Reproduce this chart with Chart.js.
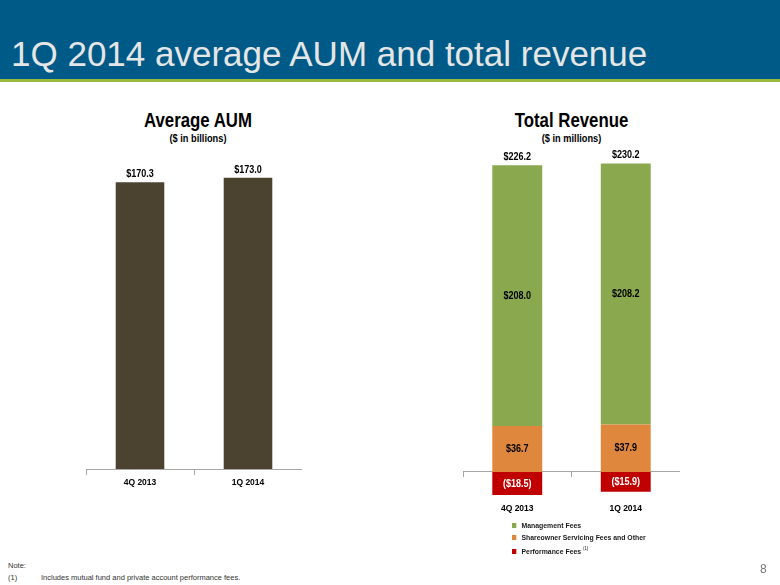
<!DOCTYPE html>
<html>
<head>
<meta charset="utf-8">
<script src="https://cdn.jsdelivr.net/npm/chart.js@4.4.1/dist/chart.umd.min.js"></script>
<style>
    body { margin: 0; width: 780px; height: 585px; position: relative; background: #fff; overflow: hidden; font-family: "Liberation Sans", Arial, sans-serif; }
    #cabecera { position: absolute; left: 0; top: 0; width: 780px; height: 79px; background: #005a87; border-bottom: 3px solid #9bbb3c; }
    #titulo { position: absolute; left: 11px; top: 36px; font-size: 35px; line-height: 35px; color: #e6e6e6; white-space: nowrap; }
    /* no hay Arial Narrow: se comprime Liberation Sans en horizontal */
    .narrow { font-family: "Liberation Sans", Arial, sans-serif; font-weight: bold; color: #000; }
    .tit { position: absolute; text-align: center; font-size: 20px; line-height: 20px; transform: scaleX(0.84); transform-origin: center; }
    .sub { position: absolute; text-align: center; font-size: 11px; line-height: 11px; transform: scaleX(0.84); transform-origin: center; }
    canvas { position: absolute; }
    #leyenda { position: absolute; left: 512px; top: 520px; font-size: 8px; line-height: 11.7px; color: #1a1a1a; white-space: nowrap; transform: scaleX(0.86); transform-origin: left; }
    #leyenda span.cuadro { display: inline-block; width: 5px; height: 5px; margin-right: 6px; vertical-align: 0px; }
    #leyenda sup { font-size: 5px; font-weight: normal; }
    #nota { position: absolute; left: 8px; top: 560px; font-size: 7.5px; line-height: 12px; color: #333; white-space: nowrap; }
    #pagina { position: absolute; left: 760px; top: 562px; font-size: 12px; color: #777; }
</style>
</head>
<body>
<div id="cabecera"><div id="titulo">1Q 2014 average AUM and total revenue</div></div>

<div class="tit narrow" style="left:90px; top:110px; width:216px;">Average AUM</div>
<div class="sub narrow" style="left:90px; top:133px; width:216px;">($ in billions)</div>
<canvas id="chartAUM" width="216" height="354" style="left:86px; top:140px;"></canvas>

<div class="tit narrow" style="left:463px; top:110px; width:217px;">Total Revenue</div>
<div class="sub narrow" style="left:463px; top:133px; width:217px;">($ in millions)</div>
<canvas id="chartIngresos" width="217" height="376" style="left:463px; top:146px;"></canvas>

<div id="leyenda" class="narrow"></div>

<div id="nota">Note:<br>(1)<span style="position:absolute; left:33px;">Includes mutual fund and private account performance fees.</span></div>
<div id="pagina">8</div>

<script>
// Datos
const trimestres = ['4Q 2013', '1Q 2014'];
const aumPromedio = [170.3, 173.0];
const comisionesGestion = [208.0, 208.2];
const comisionesServicio = [36.7, 37.9];
const comisionesDesempeno = [-18.5, -15.9];

const fuente = '"Liberation Sans", Arial, sans-serif';
const gris = '#a6a6a6';

function formatoMoneda(valor) {
    const texto = '$' + Math.abs(valor).toFixed(1);
    return valor < 0 ? '(' + texto + ')' : texto;
}

// texto comprimido para imitar Arial Narrow
function textoAngosto(ctx, texto, x, y) {
    ctx.save();
    ctx.translate(x, y);
    ctx.scale(0.82, 1);
    ctx.fillText(texto, 0, 0);
    ctx.restore();
}

// Etiquetas de valores sobre/dentro de las barras
const etiquetas = {
    id: 'etiquetas',
    afterDatasetsDraw(chart, args, opts) {
        const ctx = chart.ctx;
        ctx.save();
        ctx.font = 'bold 11px ' + fuente;
        ctx.textAlign = 'center';
        ctx.textBaseline = 'middle';
        chart.data.datasets.forEach((ds, i) => {
            const meta = chart.getDatasetMeta(i);
            meta.data.forEach((bar, j) => {
                ctx.fillStyle = ds.colorEtiqueta || '#000';
                const y = opts.encima ? bar.y - 8 : (bar.y + bar.base) / 2;
                textoAngosto(ctx, formatoMoneda(ds.data[j]), bar.x, y);
            });
        });
        if (opts.totales) {
            chart.data.labels.forEach((lbl, j) => {
                let total = 0;
                let tope = Infinity;
                let x = 0;
                chart.data.datasets.forEach((ds, i) => {
                    const bar = chart.getDatasetMeta(i).data[j];
                    total += ds.data[j];
                    tope = Math.min(tope, bar.y, bar.base);
                    x = bar.x;
                });
                ctx.fillStyle = '#000';
                textoAngosto(ctx, formatoMoneda(total), x, tope - 8);
            });
        }
        ctx.restore();
    }
};

function ejeX(padding) {
    return {
        position: { y: 0 },
        grid: { display: true, drawOnChartArea: false, drawTicks: true, tickLength: 5, color: gris, offset: true },
        border: { display: true, color: gris, width: 1 },
        ticks: { padding: padding, color: '#000', font: { family: fuente, weight: 'bold', size: 8.5 } }
    };
}

new Chart(document.getElementById('chartAUM'), {
    type: 'bar',
    data: {
        labels: trimestres,
        datasets: [{
            label: 'Average AUM',
            data: aumPromedio,
            backgroundColor: '#4b4330',
            barPercentage: 0.45,
            categoryPercentage: 1
        }]
    },
    options: {
        responsive: false,
        animation: false,
        layout: { padding: { top: 9, bottom: 25, left: 0, right: 0 } },
        plugins: { legend: { display: false }, tooltip: { enabled: false }, etiquetas: { encima: true } },
        scales: {
            x: ejeX(4),
            y: { display: false, min: 0, max: 190 }
        }
    },
    plugins: [etiquetas]
});

const seriesIngresos = [
    { label: 'Shareowner Servicing Fees and Other', data: comisionesServicio, color: '#e0873e', texto: '#000' },
    { label: 'Management Fees', data: comisionesGestion, color: '#8aa94e', texto: '#000' },
    { label: 'Performance Fees', data: comisionesDesempeno, color: '#c00000', texto: '#fff', nota: '(1)' }
];

new Chart(document.getElementById('chartIngresos'), {
    type: 'bar',
    data: {
        labels: trimestres,
        datasets: seriesIngresos.map(s => ({
            label: s.label,
            data: s.data,
            backgroundColor: s.color,
            colorEtiqueta: s.texto,
            barPercentage: 0.46,
            categoryPercentage: 1
        }))
    },
    options: {
        responsive: false,
        animation: false,
        layout: { padding: { top: 0, bottom: 25, left: 0, right: 0 } },
        plugins: { legend: { display: false }, tooltip: { enabled: false }, etiquetas: { encima: false, totales: true } },
        scales: {
            x: Object.assign(ejeX(27), { stacked: true }),
            y: { display: false, stacked: true, min: -20, max: 260 }
        }
    },
    plugins: [etiquetas]
});

// Leyenda en HTML (orden: gestión, servicio, desempeño)
const ordenLeyenda = [1, 0, 2];
document.getElementById('leyenda').innerHTML = ordenLeyenda.map(i => {
    const s = seriesIngresos[i];
    return '<div><span class="cuadro" style="background:' + s.color + '"></span>' + s.label +
        (s.nota ? ' <sup>' + s.nota + '</sup>' : '') + '</div>';
}).join('');
</script>
</body>
</html>
